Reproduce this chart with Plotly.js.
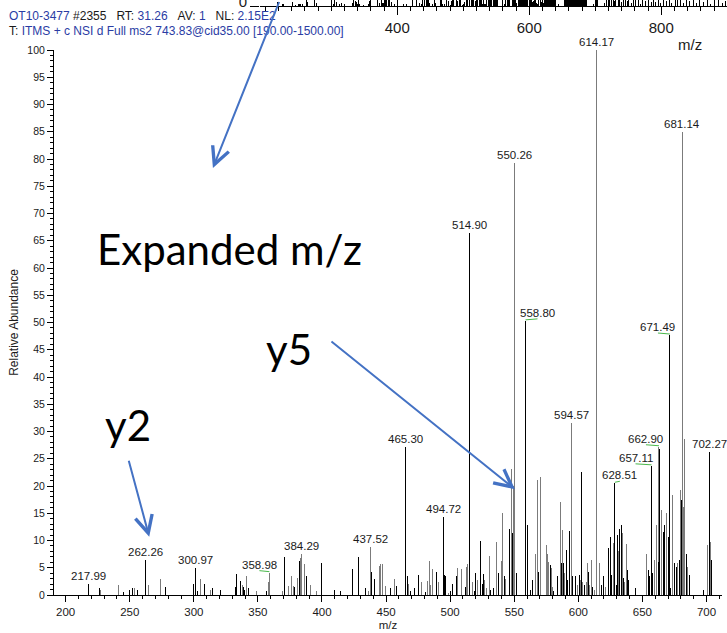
<!DOCTYPE html>
<html>
<head>
<meta charset="utf-8">
<script src="https://cdn.plot.ly/plotly-3.0.1.min.js"></script>
<style>
  html, body { margin: 0; padding: 0; background: #fff; }
  #chart { width: 727px; height: 633px; }
  #chart .scatterlayer .js-line { shape-rendering: crispEdges; }
</style>
</head>
<body>
<div id="chart"></div>
<script>
// ---- MS2 spectrum: labelled fragment peaks (m/z, relative abundance %) ----
const labelMz  = [217.99, 262.26, 300.97, 358.98, 384.29, 437.52, 465.30, 494.72, 514.90, 550.26,
                  558.80, 594.57, 614.17, 628.51, 657.11, 662.90, 671.49, 681.14, 702.27];
const labelInt = [2.0, 6.4, 4.9, 4.1, 7.5, 8.9, 27.1, 14.4, 66.4, 79.2,
                  50.3, 31.5, 100, 20.5, 23.7, 27.2, 47.7, 85.0, 26.3];

// unlabelled peaks drawn in black
const darkMz = [226.7, 245.2, 249.9, 252.2, 255.9, 277.6, 299.7, 303.1, 308.6, 314.8,
                320.5, 332.5, 333.3, 336.4, 338.5, 339.5, 342.6, 356.4, 370.5, 378.8,
                382.5, 387.7, 399.6, 409.5, 414.7, 423.8, 428.5, 433.9, 438.4, 441.0,
                453.2, 458.4, 466.6, 468.7, 472.1, 475.2, 480.7, 489.5, 495.5, 496.3,
                499.9, 502.0, 505.3, 512.1, 519.1, 520.1, 524.0, 525.0, 526.1, 531.5,
                533.6, 538.0, 542.1, 546.5, 548.8, 551.4, 560.0, 562.6, 564.1, 568.8,
                577.9, 580.8, 583.9, 586.5, 588.3, 590.4, 591.4, 593.0, 595.4, 598.0,
                600.9, 602.7, 604.6, 608.2, 611.3, 618.1, 619.9, 623.8, 625.1, 626.1,
                629.5, 630.3, 632.4, 633.4, 635.5, 638.2, 639.0, 644.7, 654.6, 655.3,
                658.2, 662.4, 663.7, 666.3, 667.6, 670.0, 671.0, 672.1, 674.9, 676.4,
                678.7, 680.8, 684.1, 686.7, 697.9, 703.6];
const darkInt = [1.2, 0.6, 0.9, 1.2, 0.9, 1.4, 2.0, 0.8, 2.0, 1.3,
                 1.0, 1.4, 3.9, 2.6, 1.4, 0.9, 1.2, 0.8, 7.0, 1.4,
                 6.3, 3.4, 5.8, 0.9, 0.8, 4.8, 7.0, 1.3, 4.3, 2.9,
                 1.2, 1.7, 3.5, 0.8, 1.2, 3.7, 0.6, 4.3, 3.7, 3.5,
                 0.8, 2.1, 3.4, 1.5, 0.8, 4.1, 9.9, 2.1, 3.9, 0.9,
                 1.2, 4.0, 3.4, 12.2, 11.4, 4.0, 12.8, 0.9, 2.8, 4.3,
                 5.5, 0.8, 3.4, 5.9, 5.8, 8.3, 2.8, 11.8, 3.5, 3.4,
                 3.7, 22.6, 1.8, 4.3, 1.5, 1.8, 3.4, 8.6, 10.7, 3.7,
                 1.8, 11.0, 12.2, 12.8, 3.1, 4.6, 2.8, 1.2, 4.6, 3.4,
                 4.0, 6.1, 26.7, 11.6, 12.8, 10.7, 30.6, 1.2, 5.8, 5.2,
                 6.4, 17.4, 7.6, 3.7, 1.0, 6.4];

// unlabelled peaks drawn in grey
const lightMz = [227.5, 241.5, 253.5, 264.4, 274.2, 305.4, 312.7, 337.7, 341.1, 348.6,
                 358.5, 369.4, 373.6, 376.5, 377.8, 381.2, 383.3, 386.4, 391.3, 395.5,
                 436.3, 444.6, 445.7, 447.0, 449.3, 456.6, 467.7, 477.6, 482.5, 483.5,
                 484.8, 485.9, 490.6, 498.6, 505.9, 509.0, 512.6, 513.7, 517.8, 521.2,
                 527.1, 528.4, 530.8, 535.9, 539.8, 540.8, 543.4, 547.8, 549.3, 566.5,
                 567.8, 570.4, 574.8, 575.6, 576.9, 578.7, 580.0, 585.7, 587.3, 589.1,
                 599.6, 601.7, 603.5, 606.1, 607.2, 609.0, 610.0, 612.4, 616.8, 621.2,
                 627.2, 631.3, 634.5, 636.3, 637.4, 653.5, 659.3, 661.1, 665.0, 668.9,
                 673.3, 677.7, 679.8, 682.1, 683.1, 685.4, 700.5, 703.1];
const lightInt = [0.9, 1.8, 1.2, 1.8, 2.9, 3.0, 1.0, 1.8, 3.4, 0.7,
                  2.3, 0.8, 1.7, 3.5, 1.7, 3.1, 6.7, 5.7, 1.8, 0.8,
                  0.8, 5.3, 5.6, 5.7, 1.7, 2.9, 2.1, 2.4, 2.6, 6.3,
                  1.8, 4.7, 2.4, 0.4, 4.9, 4.7, 5.1, 5.7, 2.4, 2.8,
                  2.8, 1.2, 7.2, 9.8, 6.2, 15.1, 2.9, 23.2, 20.0, 7.6,
                  21.1, 21.7, 9.2, 7.6, 6.1, 4.9, 1.5, 17.1, 11.9, 4.0,
                  1.8, 2.8, 2.3, 2.4, 5.8, 1.8, 6.4, 1.0, 5.8, 1.5,
                  9.5, 8.0, 11.3, 2.3, 9.4, 7.6, 6.4, 12.8, 15.6, 15.0,
                  18.3, 5.8, 19.3, 16.2, 28.6, 5.2, 9.2, 9.8];

// full-range scan above 712 m/z (only shown in the overview strip)
const highMz  = [714.2, 716.8, 719.5, 722.1, 724.6, 726.9, 729.7, 731.4, 734.8, 737.2,
                 739.9, 742.6, 745.3, 748.8, 751.1, 754.6, 757.9, 761.4, 765.2, 768.7,
                 772.3, 776.8, 780.1, 784.5, 788.2, 791.6, 795.9, 799.3, 803.8, 807.4,
                 812.6, 816.1, 820.9, 825.3, 829.7, 834.2, 838.6, 843.1, 848.5, 853.7,
                 858.2, 863.9, 869.4, 874.1, 880.6, 886.2, 892.8, 897.3];
const highInt = [1.6, 4.2, 3.1, 5.5, 3.8, 6.2, 2.4, 5.1, 4.4, 7.0,
                 1.9, 5.6, 3.3, 2.7, 4.9, 1.5, 3.6, 2.9, 4.7, 1.2,
                 3.9, 2.6, 5.2, 1.8, 3.4, 2.2, 4.8, 1.4, 3.7, 2.5,
                 4.6, 1.7, 3.2, 2.8, 4.1, 1.3, 4.5, 2.3, 3.5, 1.6,
                 3.8, 2.1, 3.3, 1.1, 2.9, 3.6, 1.5, 2.4];

// overview strip tick labels
const overviewTicks = [400, 600, 800, 1000, 1200, 1400];

// ---- styling ----
const AX_FONT = 'Liberation Sans, Arial, sans-serif';
const BIG_FONT = 'Lato, "Open Sans", sans-serif';
const BLUE_TXT = '#2a3ca4';
const ARROW_BLUE = '#4472C4';
const LEADER_GREEN = '#49b84a';
const greyLabelled = new Set(['358.98', '384.29', '437.52', '550.26', '594.57', '614.17', '662.90', '681.14']);
// horizontal label offsets (px) for labels pulled aside with a leader line
const labelShift = {'358.98': -10, '558.80': 12, '628.51': 5, '657.11': -16, '662.90': -13, '671.49': -12};

function sticks(mz, inten) {
  const x = [], y = [];
  mz.forEach((m, i) => { x.push(m, m, null); y.push(0, inten[i], null); });
  return {x, y};
}

const labelText = labelMz.map(v => v.toFixed(2));
const lblGreyMz = [], lblGreyInt = [], lblDarkMz = [], lblDarkInt = [];
labelMz.forEach((m, i) => {
  if (greyLabelled.has(labelText[i])) { lblGreyMz.push(m); lblGreyInt.push(labelInt[i]); }
  else { lblDarkMz.push(m); lblDarkInt.push(labelInt[i]); }
});

const greyAll = sticks(lightMz.concat(lblGreyMz), lightInt.concat(lblGreyInt));
const darkAll = sticks(darkMz.concat(lblDarkMz), darkInt.concat(lblDarkInt));
const overview = sticks(
  labelMz.concat(darkMz, lightMz, highMz),
  labelInt.concat(darkInt, lightInt, highInt)
);

const traces = [
  {x: greyAll.x, y: greyAll.y, type: 'scatter', mode: 'lines', xaxis: 'x', yaxis: 'y',
   line: {color: '#7b7b7b', width: 1}, hoverinfo: 'skip', connectgaps: false},
  {x: darkAll.x, y: darkAll.y, type: 'scatter', mode: 'lines', xaxis: 'x', yaxis: 'y',
   line: {color: '#000000', width: 1}, hoverinfo: 'skip', connectgaps: false},
  {x: overview.x, y: overview.y, type: 'scatter', mode: 'lines', xaxis: 'x2', yaxis: 'y2',
   line: {color: '#000000', width: 1}, hoverinfo: 'skip', connectgaps: false}
];

// pixel frame: plot paper spans x 54..727, y 0..595
const W = 727, H = 633, ML = 54, MB = 38;
const PW = W - ML, PH = H - MB;
const px = x => (x - ML) / PW;
const py = y => (PH - y) / PH;

const annotations = [];
const shapes = [];

// peak labels
labelMz.forEach((m, i) => {
  const t = labelText[i];
  const dx = labelShift[t] || 0;
  annotations.push({
    x: m, y: labelInt[i], xref: 'x', yref: 'y', text: t, showarrow: false,
    xanchor: 'center', yanchor: 'bottom', xshift: dx, yshift: 0,
    font: {family: AX_FONT, size: 11.5, color: '#1a1a1a'}
  });
  if (dx) {
    shapes.push({
      type: 'line', xref: 'x', yref: 'y', xsizemode: 'pixel', ysizemode: 'pixel',
      xanchor: m, yanchor: labelInt[i], x0: 0, x1: dx, y0: 1, y1: 2,
      line: {color: LEADER_GREEN, width: 1}
    });
  }
});

// scan header
const hdrFont = {family: AX_FONT, size: 12, color: '#1a1a1a'};
const b = s => '<span style="color:' + BLUE_TXT + '">' + s + '</span>';
const sp = '\u00a0\u00a0\u00a0';
annotations.push({
  xref: 'paper', yref: 'paper', x: px(7), y: py(16), xanchor: 'left', yanchor: 'middle',
  showarrow: false, font: hdrFont,
  text: b('OT10-3477') + ' #2355' + sp + 'RT: ' + b('31.26') + sp + 'AV: ' + b('1') + sp + 'NL: ' + b('2.15E2')
});
annotations.push({
  xref: 'paper', yref: 'paper', x: px(7), y: py(31), xanchor: 'left', yanchor: 'middle',
  showarrow: false, font: hdrFont,
  text: 'T: ' + b('ITMS + c NSI d Full ms2 743.83@cid35.00 [190.00-1500.00]')
});

// overview strip axis title
annotations.push({
  xref: 'paper', yref: 'paper', x: px(690), y: py(45), xanchor: 'center', yanchor: 'middle',
  showarrow: false, text: 'm/z', font: {family: AX_FONT, size: 15, color: '#1a1a1a'}
});

// callout text
const bigFont = {family: BIG_FONT, size: 42, color: '#000'};
annotations.push({xref: 'paper', yref: 'paper', x: px(229.5), y: py(249), xanchor: 'center', yanchor: 'middle',
  showarrow: false, text: 'Expanded m/z', font: bigFont});
annotations.push({xref: 'paper', yref: 'paper', x: px(288.5), y: py(349), xanchor: 'center', yanchor: 'middle',
  showarrow: false, text: 'y5', font: bigFont});
annotations.push({xref: 'paper', yref: 'paper', x: px(128), y: py(425), xanchor: 'center', yanchor: 'middle',
  showarrow: false, text: 'y2', font: bigFont});

// callout arrows (tip in data units, tail offset in px)
const arrowStyle = {text: ' ', showarrow: true, arrowhead: 5, arrowsize: 1.7, arrowwidth: 2,
  arrowcolor: ARROW_BLUE, standoff: 0, startstandoff: 0, axref: 'pixel', ayref: 'pixel',
  xref: 'x', yref: 'y', font: {size: 1}};
annotations.push(Object.assign({}, arrowStyle, {x: 314.9, y: 78.35, ax: 67, ay: -175}));
annotations.push(Object.assign({}, arrowStyle, {x: 550.55, y: 19.4, ax: -185, ay: -149}));
annotations.push(Object.assign({}, arrowStyle, {x: 265.2, y: 10.7, ax: -21, ay: -78}));

const tickFont = {family: AX_FONT, size: 11.5, color: '#1a1a1a'};

const layout = {
  width: W, height: H,
  margin: {l: ML, r: 0, t: 0, b: MB, pad: 0},
  paper_bgcolor: '#fff', plot_bgcolor: 'rgba(0,0,0,0)',
  showlegend: false,
  xaxis: {
    domain: [0, px(722)], range: [190.9, 712.1], anchor: 'y',
    showline: true, linecolor: '#000', linewidth: 1, mirror: false,
    showgrid: false, zeroline: false,
    ticks: 'outside', ticklen: 6, tickwidth: 1, tickcolor: '#000',
    tick0: 0, dtick: 50, tickfont: tickFont,
    minor: {ticks: 'outside', ticklen: 3, tickwidth: 1, tickcolor: '#000', dtick: 10, tick0: 0, showgrid: false},
    title: {text: 'm/z', font: {family: AX_FONT, size: 11.5, color: '#1a1a1a'}, standoff: 4}
  },
  yaxis: {
    domain: [0, py(50)], range: [0, 100], anchor: 'x',
    showline: true, linecolor: '#000', linewidth: 1,
    showgrid: false, zeroline: false,
    ticks: 'outside', ticklen: 6, tickwidth: 1, tickcolor: '#000',
    tick0: 0, dtick: 5, tickfont: {family: AX_FONT, size: 10.5, color: '#1a1a1a'},
    minor: {ticks: 'outside', ticklen: 3, tickwidth: 1, tickcolor: '#000', dtick: 1, tick0: 0, showgrid: false},
    title: {text: 'Relative Abundance', font: {family: AX_FONT, size: 12, color: '#1a1a1a'}, standoff: 6}
  },
  xaxis2: {
    domain: [px(260), 1], range: [192, 899.6], anchor: 'y2',
    showline: true, linecolor: '#000', linewidth: 1,
    showgrid: false, zeroline: false,
    ticks: 'outside', ticklen: 8, tickwidth: 1, tickcolor: '#000',
    tickmode: 'array', tickvals: overviewTicks,
    tickfont: {family: AX_FONT, size: 15, color: '#1a1a1a'},
    minor: {ticks: 'outside', ticklen: 4, tickwidth: 1, tickcolor: '#000', tickmode: 'linear', dtick: 20, tick0: 0, showgrid: false}
  },
  yaxis2: {
    domain: [py(6), 1], range: [0, 3], anchor: 'x2',
    showline: false, showgrid: false, zeroline: false,
    ticks: 'outside', ticklen: 9, tickwidth: 1, tickcolor: '#000',
    tickvals: [0], ticktext: ['0'], ticklabelshift: -4, ticklabeloverflow: 'allow',
    tickfont: {family: AX_FONT, size: 15, color: '#1a1a1a'}
  },
  annotations: annotations,
  shapes: shapes
};

Plotly.newPlot('chart', traces, layout, {displayModeBar: false, staticPlot: true});
</script>
</body>
</html>
